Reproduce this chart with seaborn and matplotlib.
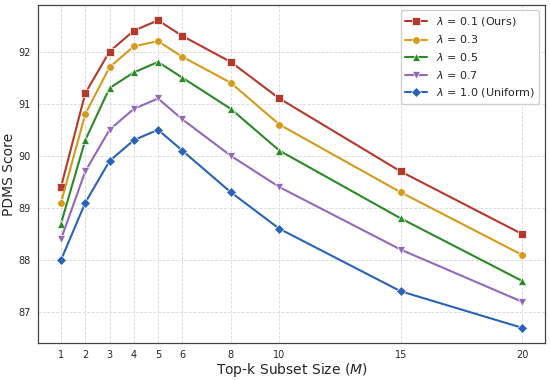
import pandas as pd
import matplotlib.pyplot as plt
import seaborn as sns

# data
subset_size = [1, 2, 3, 4, 5, 6, 8, 10, 15, 20]
lam_01 = [89.4, 91.2, 92.0, 92.4, 92.6, 92.3, 91.8, 91.1, 89.7, 88.5]
lam_03 = [89.1, 90.8, 91.7, 92.1, 92.2, 91.9, 91.4, 90.6, 89.3, 88.1]
lam_05 = [88.7, 90.3, 91.3, 91.6, 91.8, 91.5, 90.9, 90.1, 88.8, 87.6]
lam_07 = [88.4, 89.7, 90.5, 90.9, 91.1, 90.7, 90.0, 89.4, 88.2, 87.2]
lam_10 = [88.0, 89.1, 89.9, 90.3, 90.5, 90.1, 89.3, 88.6, 87.4, 86.7]

labels = [r'$\lambda$ = 0.1 (Ours)', r'$\lambda$ = 0.3', r'$\lambda$ = 0.5',
          r'$\lambda$ = 0.7', r'$\lambda$ = 1.0 (Uniform)']
series = [lam_01, lam_03, lam_05, lam_07, lam_10]
colors = ['#b5392a', '#d69a1a', '#2a8a26', '#9467bd', '#2a62b8']
markers = ['s', 'o', '^', 'v', 'D']

rows = []
for lab, vals in zip(labels, series):
    for m, v in zip(subset_size, vals):
        rows.append({'M': m, 'score': v, 'setting': lab})
df = pd.DataFrame(rows)

sns.set_style('white')
fig, ax = plt.subplots(figsize=(5.5, 3.8), dpi=100)

sns.lineplot(data=df, x='M', y='score', hue='setting', style='setting',
             hue_order=labels, style_order=labels,
             palette=dict(zip(labels, colors)),
             markers=dict(zip(labels, markers)), dashes=False,
             markersize=5.5, linewidth=1.5, markeredgewidth=0.5, ax=ax)

ax.set_xticks(subset_size)
ax.set_yticks([87, 88, 89, 90, 91, 92])
ax.tick_params(labelsize=7, length=3, pad=2, color='#444444')
ax.grid(True, linestyle='--', linewidth=0.6, color='#d0d0d0', alpha=0.8)
for s in ax.spines.values():
    s.set_color('#444444')
    s.set_linewidth(0.9)

ax.set_xlabel(r'Top-k Subset Size ($M$)', fontsize=10, labelpad=1)
ax.set_ylabel('PDMS Score', fontsize=10, labelpad=2)
ax.legend(loc='upper right', fontsize=8, frameon=True, framealpha=0.9)

fig.subplots_adjust(left=0.069, right=0.991, top=0.987, bottom=0.097)
plt.savefig('out.png', dpi=100)
